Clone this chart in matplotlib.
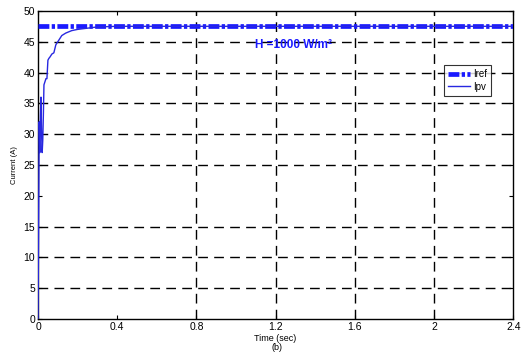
import matplotlib
matplotlib.use("Agg")
import matplotlib.pyplot as plt

t_ipv = [0, 0.003, 0.006, 0.009, 0.012, 0.015, 0.018, 0.021, 0.024, 0.027, 0.03, 0.035,
         0.04, 0.045, 0.05, 0.055, 0.06, 0.07, 0.08, 0.09, 0.1, 0.11, 0.12, 0.14, 0.17,
         0.2, 0.25, 0.3, 0.4, 2.4]
ipv = [0, 15, 32, 27, 33, 36, 30, 27, 29, 33, 38, 38.5, 39, 39, 42, 42.3, 42.5, 43,
       43.2, 44.5, 45, 45.5, 46, 46.4, 46.8, 47, 47.2, 47.4, 47.5, 47.5]
t_ref = [0, 2.4]
iref = [47.5, 47.5]
xticks = [0, 0.4, 0.8, 1.2, 1.6, 2, 2.4]
xticklabels = ["0", "0.4", "0.8", "1.2", "1.6", "2", "2.4"]
yticks = [0, 5, 10, 15, 20, 25, 30, 35, 40, 45, 50]
hgrid = [5, 10, 15, 25, 30, 35, 40, 45]
vgrid = [0.8, 1.2, 1.6, 2.0]

plt.rcParams['font.family'] = ['Liberation Sans', 'DejaVu Sans']
fig = plt.figure(figsize=(5.28, 3.52), dpi=100)
ax = fig.add_axes([0.072, 0.094, 0.9, 0.875])

for y in hgrid:
    ax.axhline(y, color='black', lw=1.0, ls=(0, (7, 4.5)), zorder=1)
for x in vgrid:
    ax.axvline(x, color='black', lw=1.0, ls=(0, (7, 4.5)), zorder=1)

ax.plot(t_ref, iref, color='#1a1aff', lw=3.4, ls=(0, (2.3, 0.5, 0.7, 0.5)), label='Iref', zorder=3)
ax.plot(t_ipv, ipv, color='#2828e0', lw=1.0, label='Ipv', zorder=4)

ax.set_xlim(0, 2.4)
ax.set_ylim(0, 50)
ax.set_xticks(xticks)
ax.set_xticklabels(xticklabels)
ax.set_yticks(yticks)
ax.tick_params(direction='in', length=3, labelsize=7.5, top=True, right=True, pad=2)
for s in ax.spines.values():
    s.set_linewidth(1.0)

ax.set_xlabel('Time (sec)', fontsize=6.5, labelpad=2)
ax.set_ylabel('Current (A)', fontsize=5.5, labelpad=4)

ax.text(1.29, 44.5, 'H =1000 W/m²', color='#1a1aff', fontsize=8.5, fontweight='bold',
        ha='center', va='center', zorder=5)

leg = ax.legend(loc='upper left', bbox_to_anchor=(0.845, 0.84), fontsize=7,
                frameon=True, fancybox=False, edgecolor='black', handlelength=2.2,
                borderpad=0.4, labelspacing=0.3, handletextpad=0.4)
leg.get_frame().set_linewidth(0.8)
leg.set_zorder(6)

fig.text(0.525, 0.014, '(b)', fontsize=6.5, ha='center', va='center')

fig.savefig('out.png', dpi=100)
